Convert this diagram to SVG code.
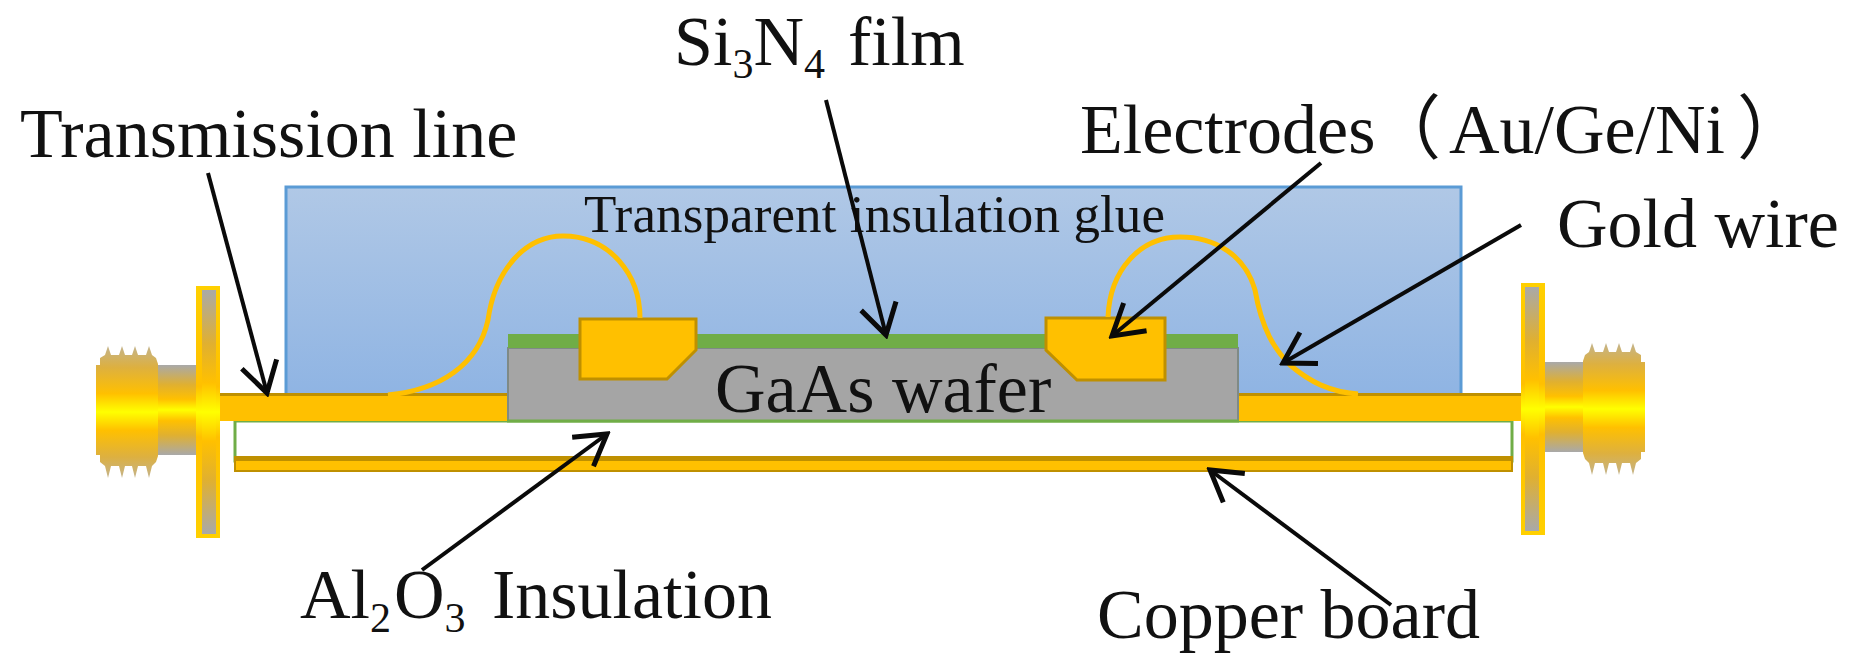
<svg xmlns="http://www.w3.org/2000/svg" xmlns:xlink="http://www.w3.org/1999/xlink" width="1855" height="669" viewBox="0 0 1855 669">
<style>
text{font-family:"Liberation Serif","Noto Sans CJK SC",serif;font-size:70px;fill:#111}
.sub{font-size:42px}
.gold{fill:#FFC000;stroke:#BF9000;stroke-width:3}
.plain-gold{fill:#FFC000}
.dark{fill:#BF9000}
.wire{fill:none;stroke:#FFC000;stroke-width:5}
.arrow{fill:none;stroke:#0a0a0a;stroke-width:4;marker-end:url(#vee)}
</style>
<defs>
<linearGradient id="glueFill" x1="0" y1="0" x2="0" y2="1"><stop offset="0" stop-color="#B0C8E6"/><stop offset="1" stop-color="#8FB4E3"/></linearGradient>
<linearGradient id="metal" x1="0" y1="0" x2="0" y2="1"><stop offset="0" stop-color="#A9A9A9"/><stop offset=".22" stop-color="#E0B030"/><stop offset=".38" stop-color="#FFC000"/><stop offset=".5" stop-color="#FFFF00"/><stop offset=".62" stop-color="#FFC000"/><stop offset=".78" stop-color="#E0B030"/><stop offset="1" stop-color="#A9A9A9"/></linearGradient>
<linearGradient id="rim" x1="0" y1="0" x2="0" y2="1"><stop offset="0" stop-color="#FFD000"/><stop offset=".4" stop-color="#FFC000"/><stop offset=".5" stop-color="#FFFF00"/><stop offset=".6" stop-color="#FFC000"/><stop offset="1" stop-color="#FFD000"/></linearGradient>
<linearGradient id="headFill" x1="0" y1="0" x2="0" y2="1"><stop offset="0" stop-color="#C4B48C"/><stop offset=".16" stop-color="#DDB040"/><stop offset=".36" stop-color="#FFC000"/><stop offset=".5" stop-color="#FFFF00"/><stop offset=".64" stop-color="#FFC000"/><stop offset=".84" stop-color="#DDB040"/><stop offset="1" stop-color="#C4B48C"/></linearGradient>
<marker id="vee" markerUnits="userSpaceOnUse" viewBox="-36 -22 40 44" refX="0" refY="0" markerWidth="40" markerHeight="44" orient="auto"><path d="M-30-18L0 0L-30 18" fill="none" stroke="#0a0a0a" stroke-width="5"/></marker>
<g id="connector">
<rect x="158" y="365" width="40" height="90" fill="url(#metal)"/>
<path d="M96 365H100V358L105 355L108 346L111 355L119 355L122 346L125 355L132 355L135 346L138 355L146 355L149 346L152 355L156 358L158 364V456L156 462L152 466L149 478L146 466L138 466L135 478L132 466L125 466L122 478L119 466L111 466L108 478L105 466L100 462V455H96Z" fill="url(#headFill)"/>
<rect x="196" y="286" width="24" height="252" fill="url(#rim)"/>
<rect x="202" y="290" width="14" height="244" fill="url(#metal)"/>
</g>
</defs>
<rect width="1855" height="669" fill="#fff"/>
<g id="glue"><rect x="286" y="187" width="1175" height="208" fill="url(#glueFill)" stroke="#5B9BD5" stroke-width="3"/><text x="584" y="232" style="font-size:53px" textLength="581">Transparent insulation glue</text></g>
<g id="insulation"><rect x="235" y="421" width="1277" height="40" fill="#fff" stroke="#70AD47" stroke-width="3"/></g>
<g id="copper-board"><rect x="234" y="456" width="1279" height="16" class="dark"/><rect x="236" y="461" width="1275" height="9" class="plain-gold"/></g>
<g id="transmission-line"><rect x="220" y="393" width="288" height="28" class="plain-gold"/><rect x="220" y="393" width="288" height="3" class="dark"/><rect x="1238" y="393" width="284" height="28" class="plain-gold"/><rect x="1238" y="393" width="284" height="3" class="dark"/></g>
<g id="wafer"><rect x="508" y="348" width="730" height="73" fill="#A5A5A5" stroke="#7F8A86" stroke-width="2"/><rect x="508" y="334" width="730" height="14" fill="#70AD47"/><rect x="507" y="419.500" width="732" height="3" fill="#70AD47"/><text x="715" y="412">GaAs wafer</text></g>
<g id="electrode-left"><path d="M580 319H696V350L667 379H580Z" class="gold"/></g>
<g id="electrode-right"><path d="M1046 318H1165V380H1077L1046 350Z" class="gold"/></g>
<g id="gold-wires"><path d="M388 395C440 390 478 365 488 320C495 270 525 236 563 236C610 236 640 275 640 318" class="wire"/><path d="M1108 317C1110 270 1140 237 1180 237C1215 237 1245 255 1255 290C1262 330 1275 350 1290 365C1310 382 1330 392 1358 394" class="wire"/></g>
<g id="connector-left"><use xlink:href="#connector" href="#connector"/></g>
<g id="connector-right"><use xlink:href="#connector" href="#connector" transform="matrix(-1 0 0 1 1741 -3)"/></g>
<g id="connectors">
<line x1="208" y1="173" x2="267" y2="393" class="arrow"/>
<line x1="826" y1="100" x2="886" y2="335" class="arrow"/>
<line x1="1321" y1="163" x2="1112" y2="336" class="arrow"/>
<line x1="1521" y1="225" x2="1283" y2="363" class="arrow"/>
<line x1="422" y1="570" x2="607" y2="434" class="arrow"/>
<line x1="1391" y1="605" x2="1210" y2="470" class="arrow"/>
</g>
<g id="labels">
<text x="20" y="157">Transmission line</text>
<text x="674" y="65">Si<tspan class="sub" dy="13">3</tspan><tspan dy="-13">N</tspan><tspan class="sub" dy="13">4</tspan><tspan dy="-13" x="848">film</tspan></text>
<text x="1080" y="153">Electrodes</text>
<text x="1371" y="153">（</text>
<text x="1449" y="153">Au/Ge/Ni</text>
<text x="1737" y="153">）</text>
<text x="1557" y="247">Gold wire</text>
<text x="300" y="618">Al<tspan class="sub" dy="14">2</tspan><tspan dy="-14" dx="3">O</tspan><tspan class="sub" dy="14">3</tspan><tspan dy="-14" x="492">Insulation</tspan></text>
<text x="1097" y="638">Copper board</text>
</g>
</svg>
